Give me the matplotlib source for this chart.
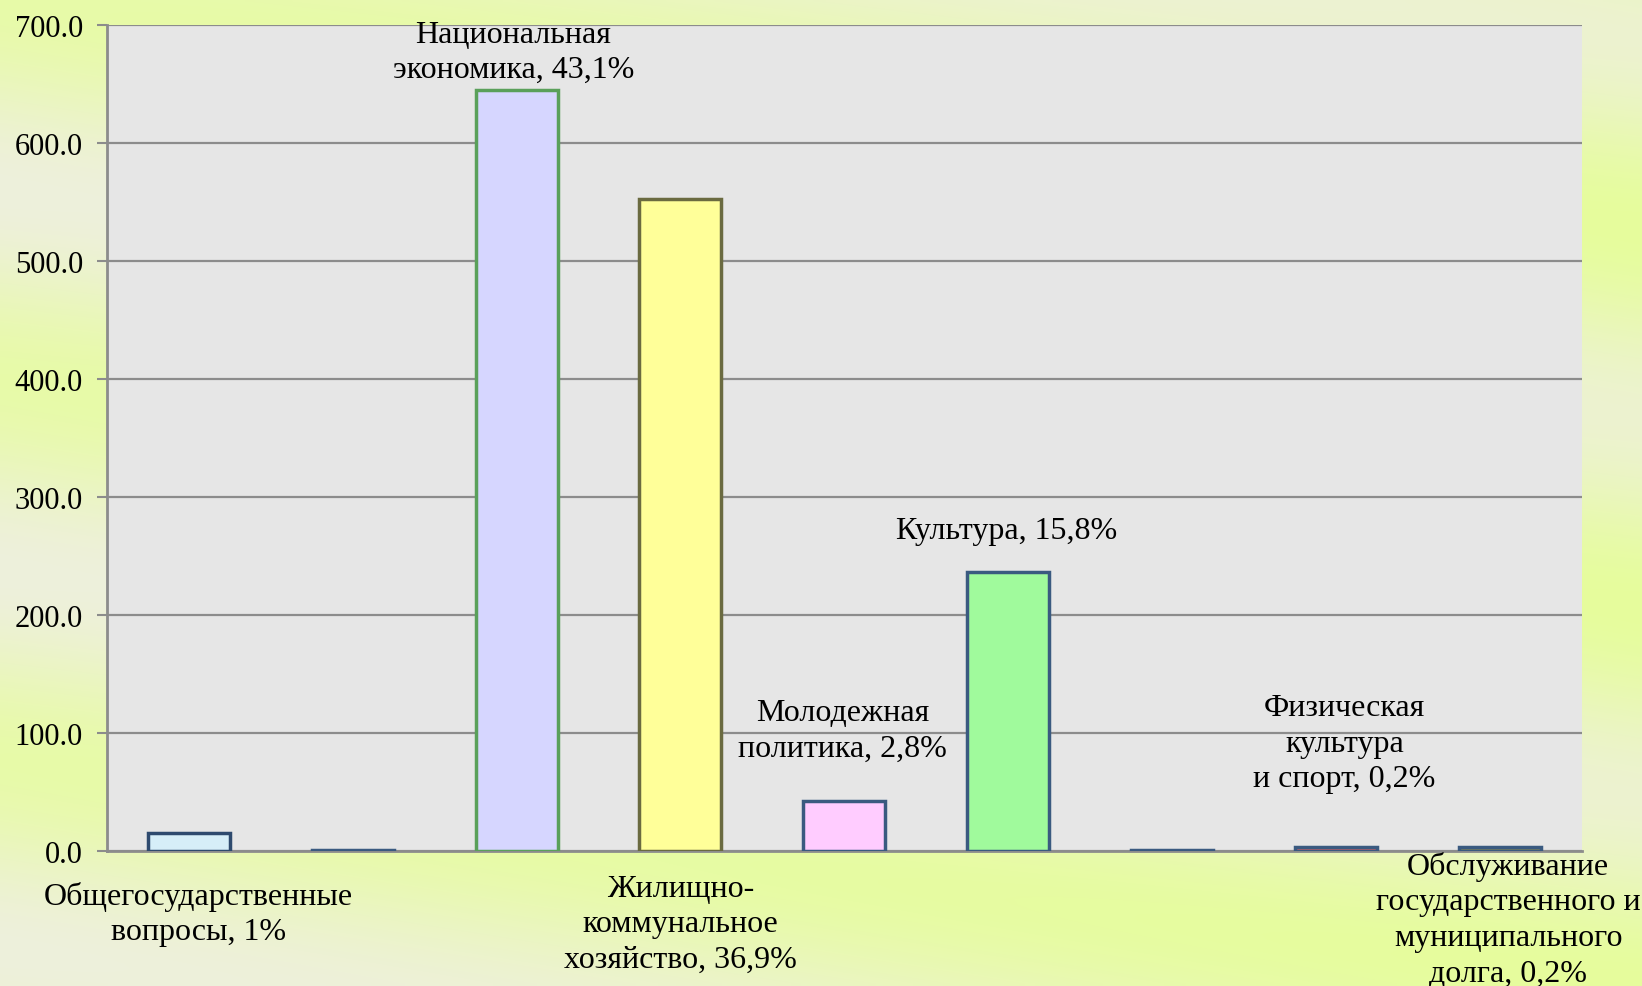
import numpy as np
import matplotlib
matplotlib.use("Agg")
import matplotlib.pyplot as plt
from matplotlib.colors import to_rgb

plt.rcParams['font.family'] = ['Liberation Serif', 'DejaVu Serif']

# data
categories = ["Общегосударственные вопросы", "Национальная оборона",
              "Национальная экономика", "Жилищно-коммунальное хозяйство",
              "Молодежная политика", "Культура", "Социальная политика",
              "Физическая культура и спорт",
              "Обслуживание государственного и муниципального долга"]
values = [15.0, 1.0, 645.0, 552.0, 42.0, 236.0, 1.0, 3.0, 3.0]
bar_labels = ["Общегосударственные\nвопросы, 1%", None,
              "Национальная\nэкономика, 43,1%",
              "Жилищно-\nкоммунальное\nхозяйство, 36,9%",
              "Молодежная\nполитика, 2,8%", "Культура, 15,8%", None,
              "Физическая\nкультура\nи спорт, 0,2%",
              "Обслуживание\nгосударственного и\nмуниципального\nдолга, 0,2%"]
yticks = [0, 100, 200, 300, 400, 500, 600, 700]

# styling
face = ['#d6eef8', '#4f6f9a', '#d6d6ff', '#ffff99', '#ffccff', '#a0fa9c',
        '#4f6f9a', '#e06060', '#8a8a50']
edge = ['#2e4a6e', '#3a5a80', '#5aa05a', '#6a6a40', '#3a5a80', '#3a5a80',
        '#3a5a80', '#3a5a80', '#3a5a80']
label_pos = [(0.06, -53), None, (1.98, 677), (3.0, -62), (3.99, 102),
             (4.99, 271), None, (7.05, 91), (8.05, -58)]

fig = plt.figure(figsize=(16.42, 9.87), dpi=100)

# gradient background
bg = fig.add_axes([0, 0, 1, 1], zorder=-10)
h, w = 200, 330
yy, xx = np.mgrid[0:h, 0:w]
yn = yy / h
xn = xx / w
t = 0.5 + 0.5 * np.cos(2 * np.pi * (yn * 2.6 - xn * 0.6))
t = np.clip(t * 0.8 + 0.2 * xn, 0, 1)
c1 = np.array(to_rgb('#e6fd9c'))
c2 = np.array(to_rgb('#eef0dc'))
img = c2[None, None, :] * (1 - t[..., None]) + c1[None, None, :] * t[..., None]
bg.imshow(img, aspect='auto', extent=[0, 1, 0, 1], interpolation='bilinear')
bg.axis('off')

ax = fig.add_axes([0.065, 0.137, 0.8985, 0.837])
ax.set_facecolor('#e6e6e6')
x = np.arange(len(values))
ax.bar(x, values, width=0.5, color=face, edgecolor=edge, linewidth=2.5, zorder=3)

ax.set_xlim(-0.5, len(values) - 0.5)
ax.set_ylim(0, 700)
ax.set_yticks(yticks)
ax.set_yticklabels(["%.1f" % v for v in yticks], fontsize=22)
ax.set_xticks([])
ax.yaxis.grid(True, color='#8c8c8c', linewidth=1.6, zorder=0)
ax.set_axisbelow(True)
for s in ['top', 'right']:
    ax.spines[s].set_visible(False)
for s in ['left', 'bottom']:
    ax.spines[s].set_color('#8c8c8c')
    ax.spines[s].set_linewidth(2)
ax.tick_params(axis='y', length=7, width=1.5, color='#8c8c8c', pad=10)

for lab, pos in zip(bar_labels, label_pos):
    if lab is None:
        continue
    ax.text(pos[0], pos[1], lab, ha='center', va='center', fontsize=23,
            linespacing=1.3, clip_on=False, zorder=5)

fig.savefig("out.png", dpi=100)
